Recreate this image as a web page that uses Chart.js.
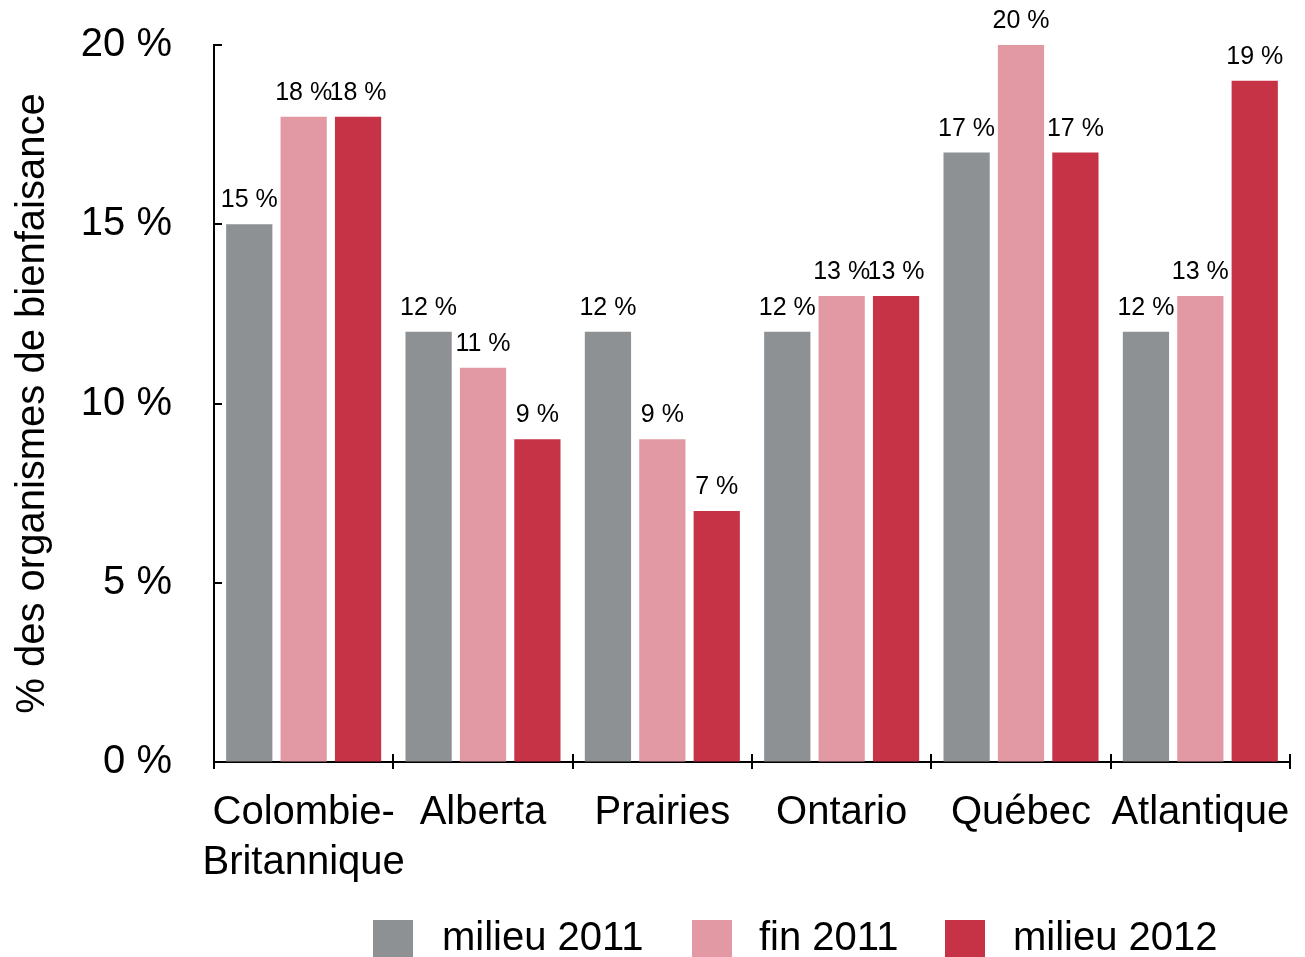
<!DOCTYPE html>
<html>
<head>
<meta charset="utf-8">
<script src="https://cdn.jsdelivr.net/npm/chart.js@4/dist/chart.umd.min.js"></script>
<style>
  html, body { margin: 0; padding: 0; background: #fff; }
  #wrap { width: 1305px; height: 957px; }
</style>
</head>
<body>
<div id="wrap"><canvas id="c" width="1305" height="957"></canvas></div>
<script>
const categories = [['Colombie-', 'Britannique'], 'Alberta', 'Prairies', 'Ontario', 'Québec', 'Atlantique'];
const seriesNames = ['milieu 2011', 'fin 2011', 'milieu 2012'];
const milieu2011 = [15, 12, 12, 12, 17, 12];
const fin2011 = [18, 11, 9, 13, 20, 13];
const milieu2012 = [18, 9, 7, 13, 17, 19];
const yTicks = [0, 5, 10, 15, 20];
const yTitle = '% des organismes de bienfaisance';
const colors = ['#8e9194', '#e299a3', '#c63347'];

const FONT = "'Liberation Sans', Arial, Helvetica, sans-serif";

const decorPlugin = {
  id: 'decor',
  afterDatasetsDraw(chart) {
    const ctx = chart.ctx;
    ctx.save();
    ctx.fillStyle = '#000';
    ctx.font = '25px ' + FONT;
    ctx.textAlign = 'center';
    ctx.textBaseline = 'alphabetic';
    chart.data.datasets.forEach((ds, di) => {
      const meta = chart.getDatasetMeta(di);
      meta.data.forEach((el, i) => {
        ctx.fillText(ds.data[i] + ' %', el.x, el.y - 17);
      });
    });
    ctx.restore();
  },
  afterDraw(chart) {
    const ctx = chart.ctx;
    const xs = chart.scales.x, ys = chart.scales.y;
    ctx.save();
    ctx.strokeStyle = '#000';
    ctx.lineWidth = 2;
    yTicks.forEach(v => {
      const y = Math.round(ys.getPixelForValue(v));
      ctx.beginPath();
      ctx.moveTo(xs.left, y);
      ctx.lineTo(xs.left + 8, y);
      ctx.stroke();
    });
    const yb = ys.bottom;
    for (let i = 0; i <= categories.length; i++) {
      const x = Math.round(xs.getPixelForValue(i - 0.5));
      ctx.beginPath();
      ctx.moveTo(x, yb - 8);
      ctx.lineTo(x, yb + 7);
      ctx.stroke();
    }
    ctx.restore();
    const boxX = [373, 692, 945];
    const textX = [442, 759, 1013];
    ctx.save();
    ctx.font = '40px ' + FONT;
    ctx.textBaseline = 'middle';
    ctx.textAlign = 'left';
    chart.data.datasets.forEach((ds, di) => {
      ctx.fillStyle = ds.backgroundColor;
      ctx.fillRect(boxX[di], 920, 40, 37);
      ctx.fillStyle = '#000';
      ctx.fillText(ds.label, textX[di], 939);
    });
    ctx.restore();
  }
};

new Chart(document.getElementById('c'), {
  type: 'bar',
  data: {
    labels: categories,
    datasets: [
      { label: seriesNames[0], data: milieu2011, backgroundColor: colors[0] },
      { label: seriesNames[1], data: fin2011, backgroundColor: colors[1] },
      { label: seriesNames[2], data: milieu2012, backgroundColor: colors[2] }
    ]
  },
  options: {
    responsive: false,
    animation: false,
    devicePixelRatio: 1,
    layout: { padding: { top: 24, right: 15, left: 0, bottom: 0 } },
    datasets: { bar: { categoryPercentage: 0.91, barPercentage: 0.85 } },
    plugins: {
      legend: { display: false },
      tooltip: { enabled: false }
    },
    scales: {
      x: {
        grid: { display: true, drawOnChartArea: false, drawTicks: true, tickLength: 26, tickColor: 'rgba(0,0,0,0)' },
        border: { display: true, color: '#000', width: 2 },
        ticks: {
          color: '#000',
          font: { family: FONT, size: 40, lineHeight: 1.25 },
          padding: 0,
          maxRotation: 0,
          autoSkip: false
        },
        afterFit(scale) { scale.height = 195; }
      },
      y: {
        min: 0,
        max: 20,
        grid: { display: true, drawOnChartArea: false, drawTicks: true, tickLength: 21, tickColor: 'rgba(0,0,0,0)' },
        border: { display: true, color: '#000', width: 2 },
        ticks: {
          stepSize: 5,
          color: '#000',
          font: { family: FONT, size: 40 },
          padding: 21,
          callback: v => v + ' %'
        },
        title: {
          display: true,
          text: yTitle,
          color: '#000',
          font: { family: FONT, size: 40 },
          padding: { top: 9, bottom: 0 }
        },
        afterFit(scale) { scale.width = 214; }
      }
    }
  },
  plugins: [decorPlugin]
});
</script>
</body>
</html>
